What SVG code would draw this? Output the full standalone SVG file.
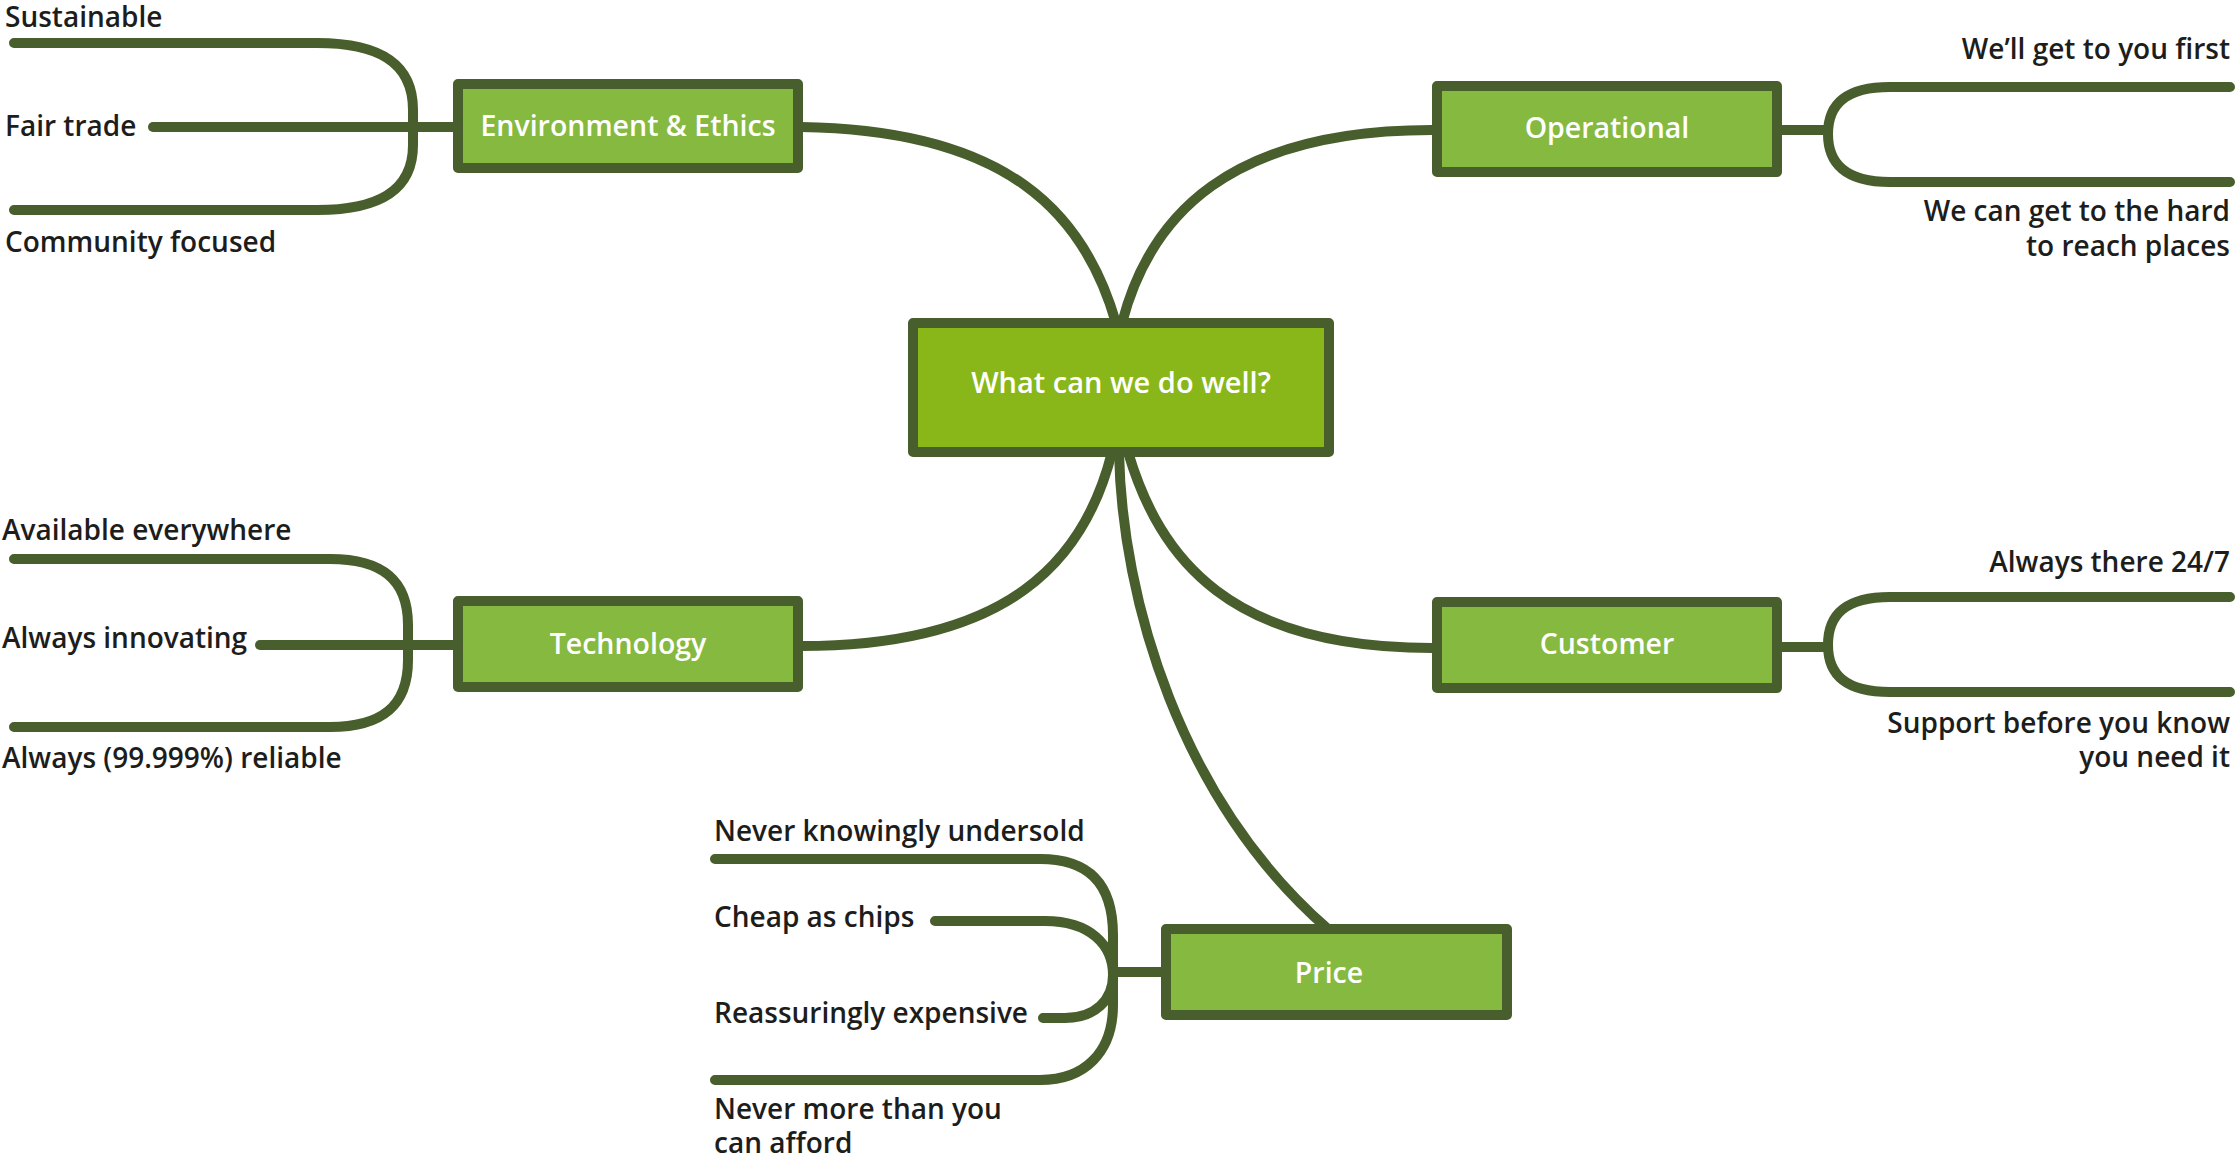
<svg xmlns="http://www.w3.org/2000/svg" width="2235" height="1162" viewBox="0 0 2235 1162">
<style>
.bg{fill:#ffffff}
.ln{fill:none;stroke:#485e2c;stroke-width:10;stroke-linecap:round;stroke-linejoin:round}
.box{fill:#86b940;stroke:#485e2c;stroke-width:10;stroke-linejoin:round}
.core{fill:#89b719;stroke:#485e2c;stroke-width:10;stroke-linejoin:round}
.bt{font-family:"Open Sans","Liberation Sans",sans-serif;font-weight:600;font-size:28.5px;fill:#ffffff;text-anchor:middle}
.ct{font-family:"Open Sans","Liberation Sans",sans-serif;font-weight:600;font-size:29px;fill:#ffffff;text-anchor:middle}
.lb{font-family:"Open Sans","Liberation Sans",sans-serif;font-weight:600;font-size:28px;fill:#1d1d1b}
.r{text-anchor:end}
</style>
<rect class="bg" x="0" y="0" width="2235" height="1162"/>
<g id="connectors">
  <path class="ln" d="M801,127 C1010,130 1085,215 1116,323"/>
  <path class="ln" d="M1432,130 C1230,130 1150,215 1122,323"/>
  <path class="ln" d="M1112,452 C1085,560 1010,646 801,646"/>
  <path class="ln" d="M1128,452 C1160,560 1230,648 1432,648"/>
  <path class="ln" d="M1119,452 C1122,600 1180,800 1328,929"/>
  <path class="ln" d="M14,43 H317 C375,43 413,60 413,110 V145 C413,193 375,210 317,210 H14"/>
  <path class="ln" d="M153,127 H458"/>
  <path class="ln" d="M14,559 H330 C380,559 408,578 408,625 V660 C408,708 380,727 330,727 H14"/>
  <path class="ln" d="M260,645 H458"/>
  <path class="ln" d="M2230,87 H1890 C1845,87 1828,105 1828,134 C1828,163 1845,182 1890,182 H2230"/>
  <path class="ln" d="M1782,130 H1828"/>
  <path class="ln" d="M2230,597 H1890 C1845,597 1828,615 1828,645 C1828,674 1845,692 1890,692 H2230"/>
  <path class="ln" d="M1782,647 H1828"/>
  <path class="ln" d="M715,859 H1040 C1085,859 1113,880 1113,935 V1005 C1113,1052 1085,1080 1040,1080 H715"/>
  <path class="ln" d="M935,921 H1045 C1090,921 1113,945 1113,975"/>
  <path class="ln" d="M1043,1018 H1065 C1095,1018 1113,1000 1113,975"/>
  <path class="ln" d="M1113,972 H1166"/>
</g>
<g id="node-center">
  <rect class="core" x="913" y="323" width="416" height="129"/>
  <text class="ct" x="1121" y="393">What can we do well?</text>
</g>
<g id="node-env">
  <rect class="box" x="458" y="84" width="340" height="84"/>
  <text class="bt" x="628" y="136">Environment &amp; Ethics</text>
  <text class="lb" x="5" y="27">Sustainable</text>
  <text class="lb" x="5" y="136">Fair trade</text>
  <text class="lb" x="5" y="252">Community focused</text>
</g>
<g id="node-operational">
  <rect class="box" x="1437" y="86" width="340" height="86"/>
  <text class="bt" x="1607" y="138">Operational</text>
  <text class="lb r" x="2230" y="59">We’ll get to you first</text>
  <text class="lb r" x="2230" y="221">We can get to the hard<tspan x="2230" dy="35">to reach places</tspan></text>
</g>
<g id="node-technology">
  <rect class="box" x="458" y="601" width="340" height="86"/>
  <text class="bt" x="628" y="654">Technology</text>
  <text class="lb" x="2" y="540">Available everywhere</text>
  <text class="lb" x="2" y="648">Always innovating</text>
  <text class="lb" x="2" y="768">Always (99.999%) reliable</text>
</g>
<g id="node-customer">
  <rect class="box" x="1437" y="602" width="340" height="86"/>
  <text class="bt" x="1607" y="654">Customer</text>
  <text class="lb r" x="2230" y="572">Always there 24/7</text>
  <text class="lb r" x="2230" y="733">Support before you know<tspan x="2230" dy="34">you need it</tspan></text>
</g>
<g id="node-price">
  <rect class="box" x="1166" y="929" width="341" height="86"/>
  <text class="bt" x="1329" y="983">Price</text>
  <text class="lb" x="714" y="841">Never knowingly undersold</text>
  <text class="lb" x="714" y="927">Cheap as chips</text>
  <text class="lb" x="714" y="1023">Reassuringly expensive</text>
  <text class="lb" x="714" y="1119">Never more than you<tspan x="714" dy="34">can afford</tspan></text>
</g>
</svg>
